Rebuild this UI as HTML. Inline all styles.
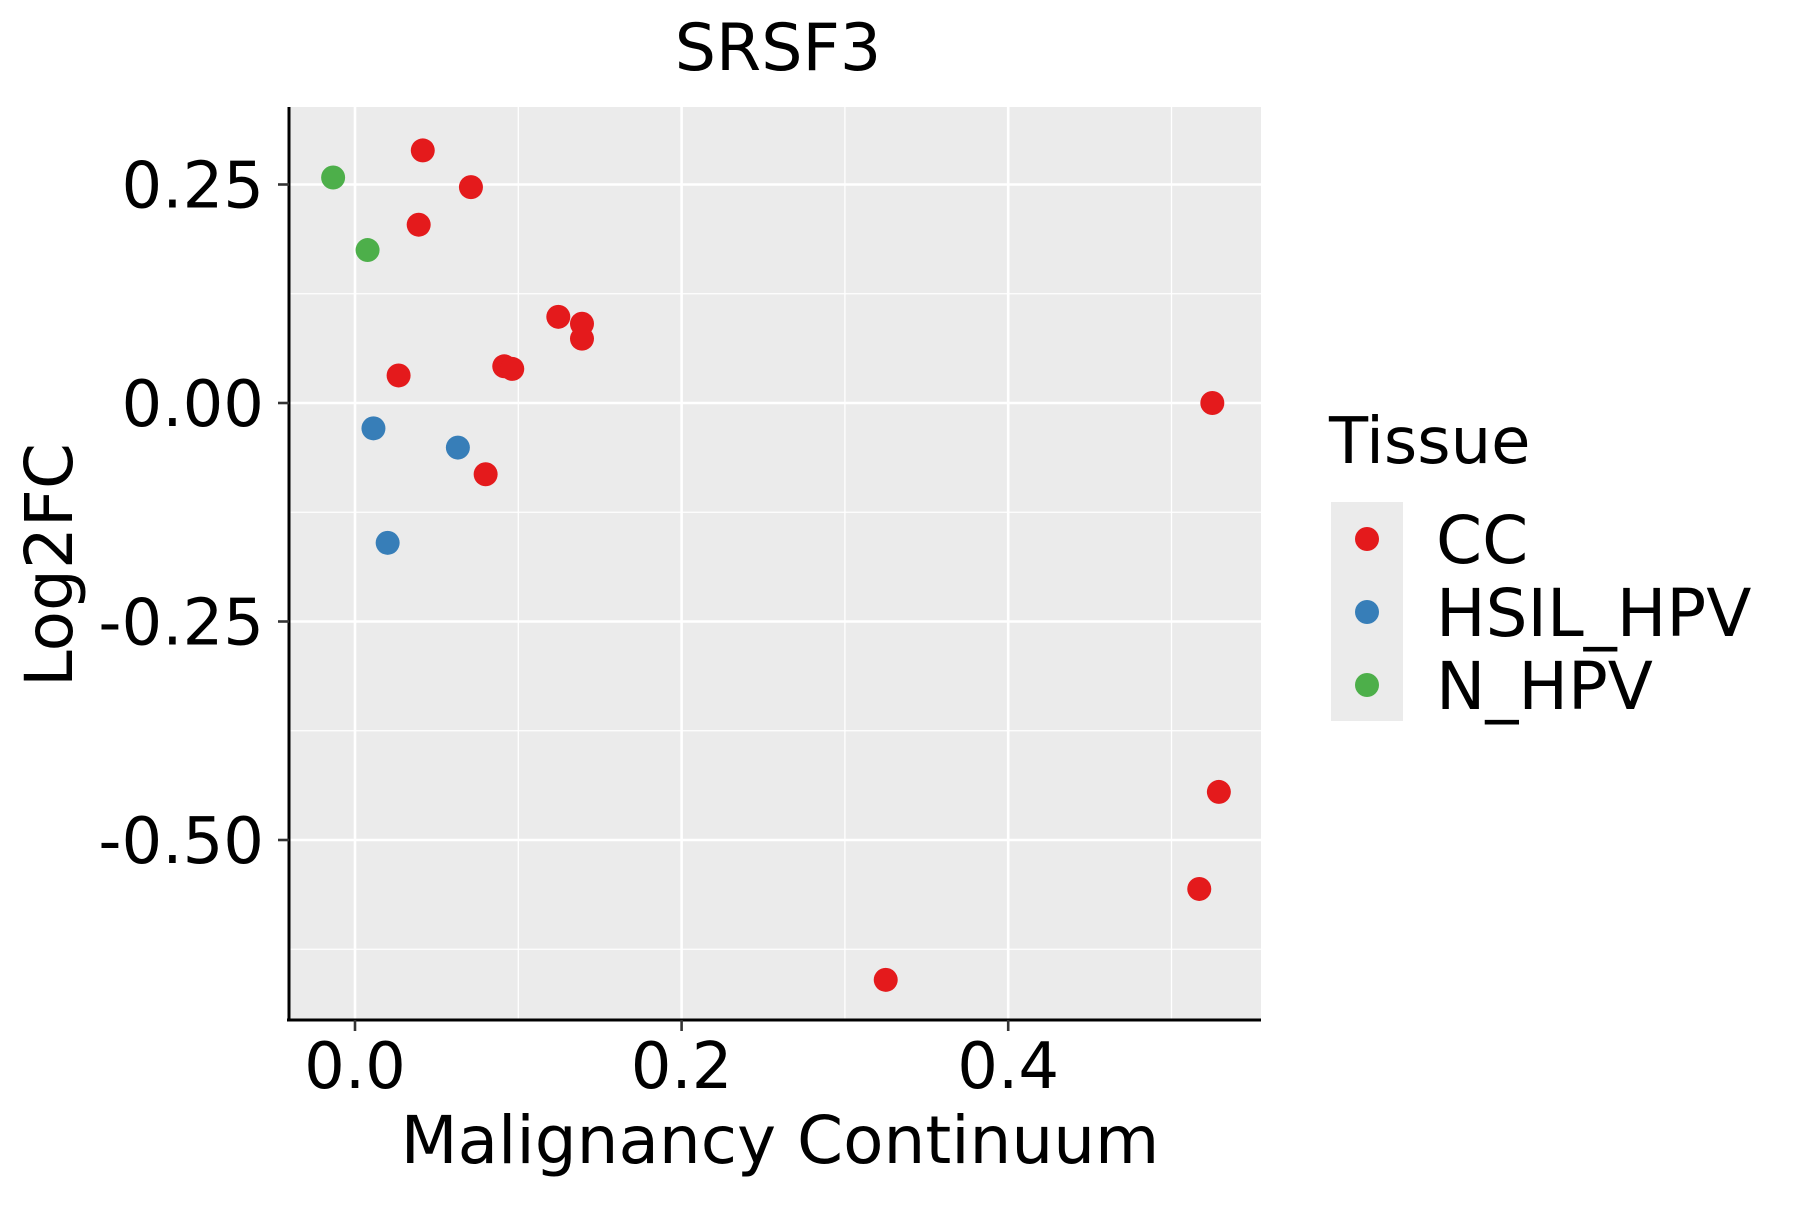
<!DOCTYPE html>
<html><head><meta charset="utf-8"><style>
body{margin:0;background:#fff}
svg text{font-family:"DejaVu Sans","Liberation Sans",sans-serif;fill:#000}
</style></head><body>
<svg id="chart" width="1800" height="1200" viewBox="0 0 1800 1200">
<text x="778" y="70" font-size="65" text-anchor="middle">SRSF3</text>
<rect x="289" y="107" width="972" height="913" fill="#ebebeb"/>
<g id="grid"></g>
<g id="points"></g>
<line x1="289" y1="107" x2="289" y2="1021" stroke="#000" stroke-width="3"/>
<line x1="287" y1="1020" x2="1261" y2="1020" stroke="#000" stroke-width="3"/>
<g id="ticks"></g>
<text x="780" y="1163" font-size="66" text-anchor="middle">Malignancy Continuum</text>
<text transform="translate(72,565) rotate(-90)" font-size="66" text-anchor="middle">Log2FC</text>
<g>
<text x="1329" y="463" font-size="64">Tissue</text>
<rect x="1331" y="502" width="72" height="219" fill="#ebebeb"/>
<g id="legend-items"></g>
</g>
</svg>
<script>
const xVals=[0.0415,0.071,0.039,0.1245,0.139,0.139,0.0267,0.0914,0.0963,0.080,0.525,0.529,0.517,0.325,0.0113,0.063,0.020,-0.0134,0.0077];
const yVals=[0.289,0.247,0.204,0.0986,0.0907,0.0736,0.0315,0.042,0.039,-0.0815,0.0,-0.445,-0.556,-0.660,-0.029,-0.051,-0.160,0.258,0.175];
const groups=["CC","CC","CC","CC","CC","CC","CC","CC","CC","CC","CC","CC","CC","CC","HSIL_HPV","HSIL_HPV","HSIL_HPV","N_HPV","N_HPV"];
const categories=["CC","HSIL_HPV","N_HPV"];
const colors={"CC":"#e41a1c","HSIL_HPV":"#377eb8","N_HPV":"#4daf4a"};
const xTicks=[0,0.2,0.4];
const xTickLabels=["0.0","0.2","0.4"];
const xMinor=[0.1,0.3,0.5];
const yTicks=[-0.5,-0.25,0,0.25];
const yTickLabels=["-0.50","-0.25","0.00","0.25"];
const yMinor=[-0.625,-0.375,-0.125,0.125];
const NS="http://www.w3.org/2000/svg";
const X=v=>355+1633*v, Y=v=>403-874*v;
const L=289,R=1261,T=107,B=1020;
function mk(tag,attrs,parent){const e=document.createElementNS(NS,tag);for(const k in attrs)e.setAttribute(k,attrs[k]);parent.appendChild(e);return e;}
const grid=document.getElementById('grid'),ticks=document.getElementById('ticks'),pts=document.getElementById('points');
xMinor.forEach(v=>{const e=mk('line',{x1:X(v),x2:X(v),y1:T,y2:B,stroke:'#fff','stroke-width':1.3},grid);

});
yMinor.forEach(v=>{const e=mk('line',{x1:L,x2:R,y1:Y(v),y2:Y(v),stroke:'#fff','stroke-width':1.3},grid);

});
xTicks.forEach((v,i)=>{const e=mk('line',{x1:X(v),x2:X(v),y1:T,y2:B,stroke:'#fff','stroke-width':2.6},grid);


const t=mk('line',{x1:X(v),x2:X(v),y1:B,y2:B+11,stroke:'#333','stroke-width':2.6},ticks);


const l=mk('text',{x:X(v),y:1088,'font-size':64,'text-anchor':'middle'},ticks);l.textContent=xTickLabels[i];

});
yTicks.forEach((v,i)=>{const e=mk('line',{x1:L,x2:R,y1:Y(v),y2:Y(v),stroke:'#fff','stroke-width':2.6},grid);


const t=mk('line',{x1:L-11,x2:L,y1:Y(v),y2:Y(v),stroke:'#333','stroke-width':2.6},ticks);


const l=mk('text',{x:264,y:Y(v)+23,'font-size':64,'text-anchor':'end'},ticks);l.textContent=yTickLabels[i];

});
xVals.forEach((v,i)=>{const c=mk('circle',{cx:X(v),cy:Y(yVals[i]),r:12,fill:colors[groups[i]]},pts);

});
const li=document.getElementById('legend-items');
categories.forEach((c,i)=>{const cy=539+73*i;
const d=mk('circle',{cx:1367,cy:cy,r:12,fill:colors[c]},li);


const t=mk('text',{x:1436,y:cy+24,'font-size':66},li);t.textContent=c;

});
</script>
</body></html>
